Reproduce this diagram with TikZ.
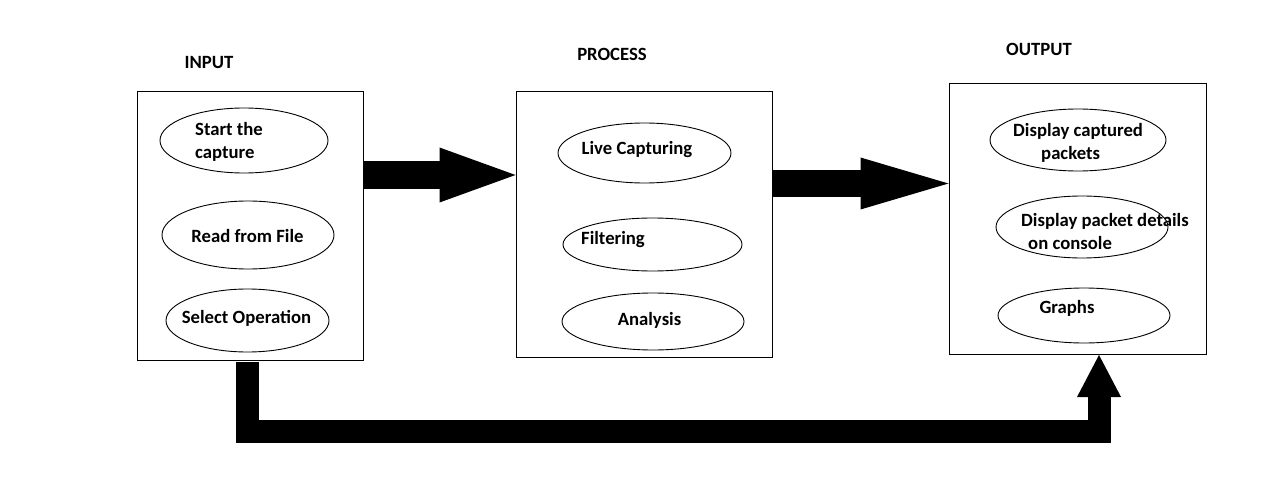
\documentclass[tikz,border=0pt]{standalone}
\usepackage{fontspec}
\setmainfont{Carlito}
\usetikzlibrary{arrows.meta,shapes.geometric,calc}
\tikzset{
  box/.style={draw, line width=1pt, rectangle, inner sep=0pt},
  ell/.style={draw, line width=0.9pt, ellipse, inner sep=0pt},
  lbl/.style={inner sep=0pt, font=\fontsize{18.7}{23}\selectfont\bfseries},
  big/.style={line width=27pt, draw=black},
}
\begin{document}
\begin{tikzpicture}[x=1pt,y=-1pt]
\useasboundingbox (0,0) rectangle (1261,500);
\fill[white] (0,0) rectangle (1261,500);
% titles
\node[lbl, anchor=base] (tin) at (209,69) {INPUT};
\node[lbl, anchor=base] (tpr) at (612,61) {PROCESS};
\node[lbl, anchor=base] (tou) at (1039,56) {OUTPUT};
% boxes
\node[box, minimum width=226pt, minimum height=268pt] (in) at (250,226) {};
\node[box, minimum width=256pt, minimum height=265pt] (proc) at (644,224.5) {};
\node[box, minimum width=257pt, minimum height=270pt] (out) at (1077.5,219) {};
% input ellipses
\node[ell, minimum width=168pt, minimum height=65pt] (e1) at (244,140.5) {};
\node[lbl, align=left, anchor=base west] (t1) at (195,158) {Start the\\capture};
\node[ell, minimum width=172pt, minimum height=68pt] (e2) at (248,235) {};
\node[lbl, anchor=base] (t2) at (247.5,242) {Read from File};
\node[ell, minimum width=163pt, minimum height=63pt] (e3) at (247.5,320.5) {};
\node[lbl, anchor=base] (t3) at (246.5,323) {Select Operation};
% process ellipses
\node[ell, minimum width=173pt, minimum height=60pt] (p1) at (644.5,153) {};
\node[lbl, anchor=base] (u1) at (637,154) {Live Capturing};
\node[ell, minimum width=179pt, minimum height=53pt] (p2) at (652.5,244.5) {};
\node[lbl, anchor=base west] (u2) at (581,244) {Filtering};
\node[ell, minimum width=182pt, minimum height=57pt] (p3) at (653,321.5) {};
\node[lbl, anchor=base] (u3) at (649.5,325) {Analysis};
% output ellipses
\node[ell, minimum width=176pt, minimum height=62pt] (o1) at (1078,140) {};
\node[lbl, align=left, anchor=base west] (v1) at (1013,160) {Display captured\\\hspace*{28pt}packets};
\node[ell, minimum width=172pt, minimum height=62pt] (o2) at (1082,227) {};
\node[lbl, align=left, anchor=base west] (v2) at (1021,249) {Display packet details\\\hspace*{7pt}on console};
\node[ell, minimum width=172pt, minimum height=55pt] (o3) at (1084,315.5) {};
\node[lbl, anchor=base] (v3) at (1067,313) {Graphs};
% connectors
\coordinate (a1) at (0,175);
\coordinate (a2) at (0,183.5);
\draw[big, -{Triangle[length=76pt,width=55pt,line width=0pt]}] (in.east |- a1) -- (proc.west |- a1);
\draw[big, -{Triangle[length=88pt,width=52pt,line width=0pt]}] (proc.east |- a2) -- (out.west |- a2);
\coordinate (b1) at (247.5,362);
\coordinate (b2) at (247.5,431.5);
\coordinate (b3) at (1099,431.5);
\coordinate (b4) at (1099,355);
\draw[line width=23pt, line join=miter, -{Triangle[length=42pt,width=44pt,line width=0pt]}] (b1) -- (b2) -- (b3) -- (b4);
\end{tikzpicture}
\end{document}
